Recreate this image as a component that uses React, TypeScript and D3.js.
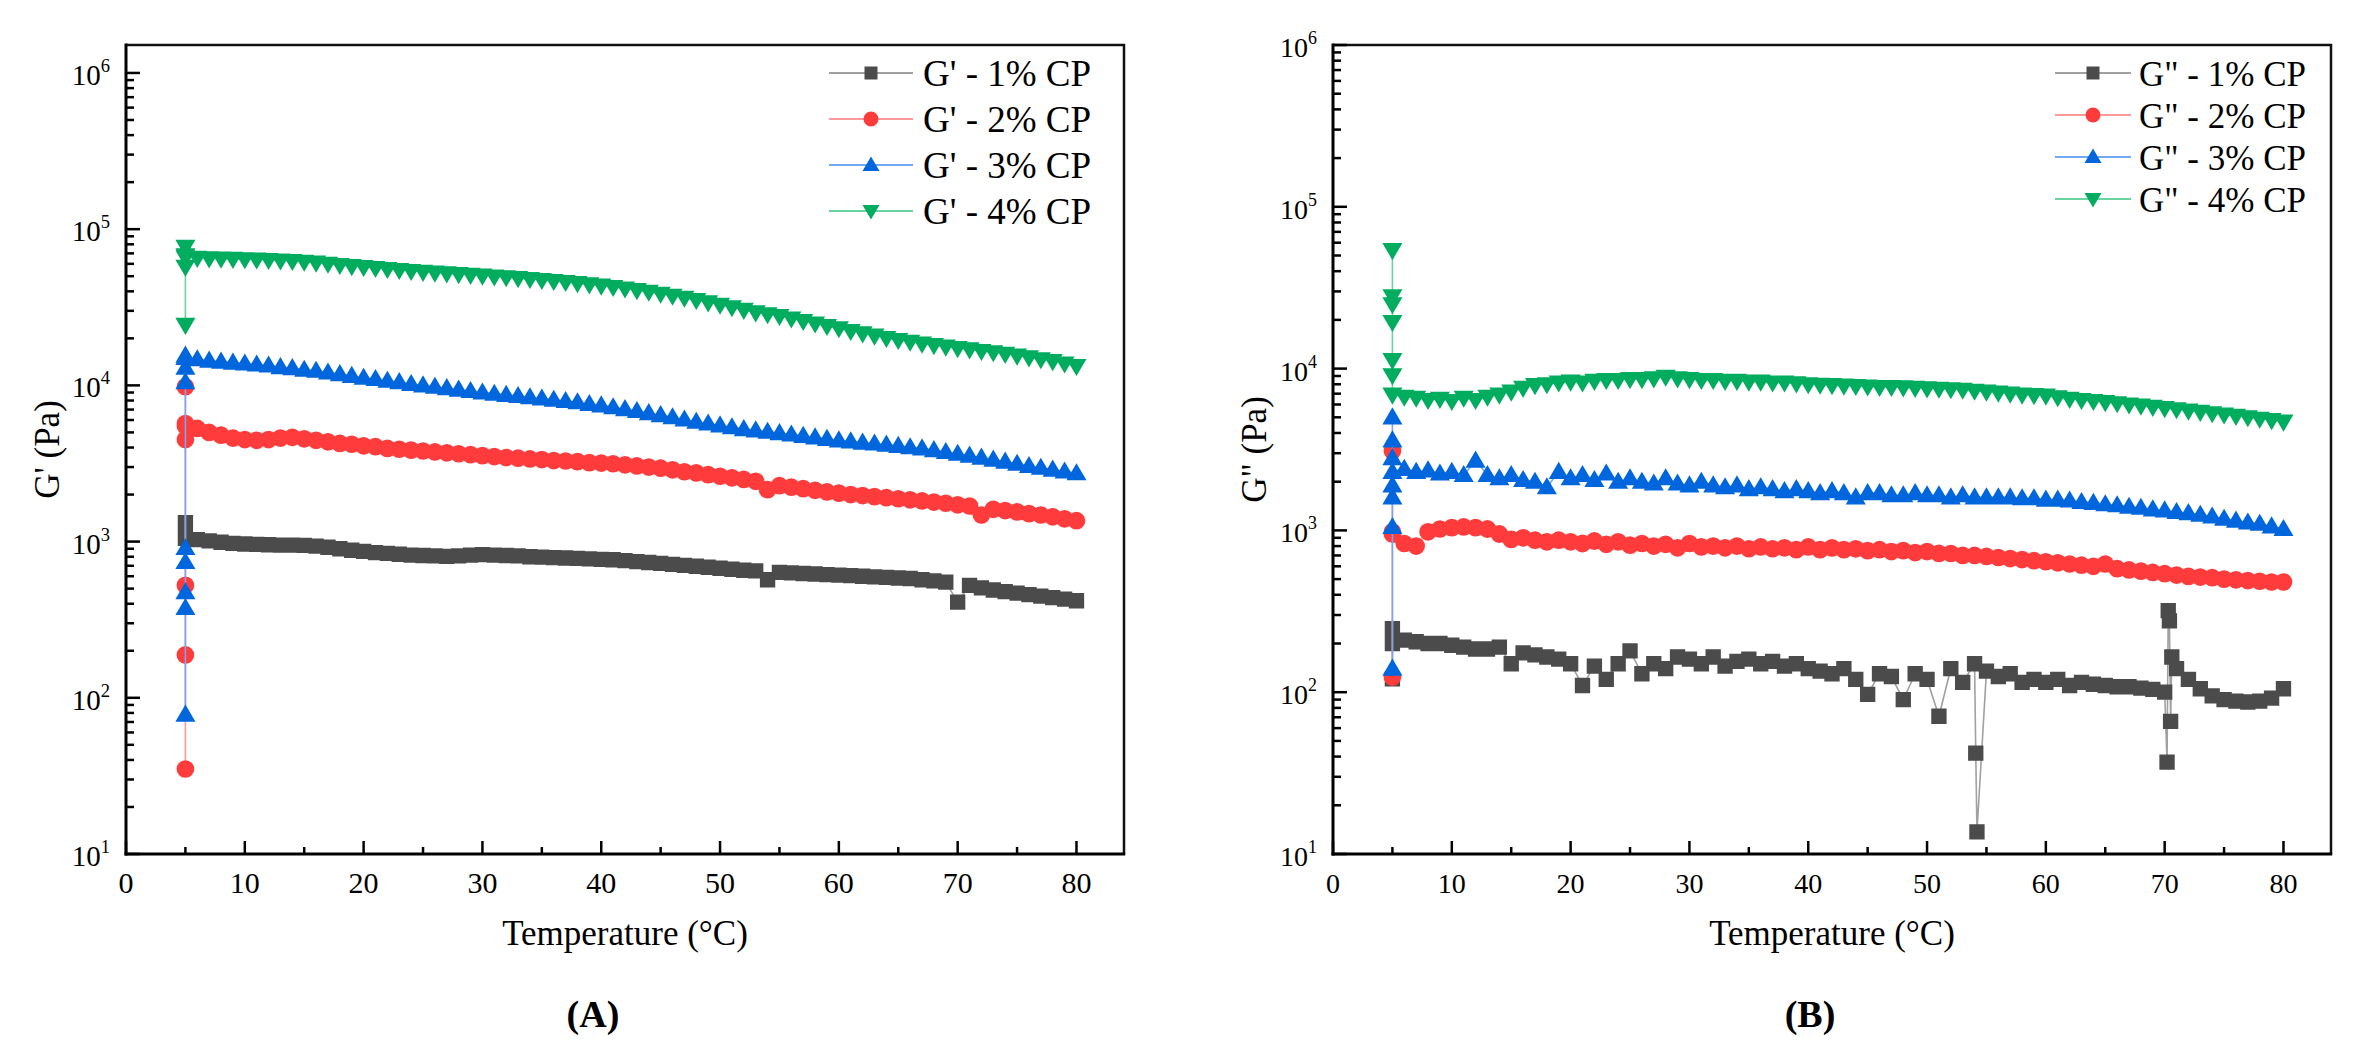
import * as d3 from 'd3';

// temperature sweep (°C), one reading per degree
const temps = [
  5, 6, 7, 8, 9, 10, 11, 12, 13, 14,
  15, 16, 17, 18, 19, 20, 21, 22, 23, 24,
  25, 26, 27, 28, 29, 30, 31, 32, 33, 34,
  35, 36, 37, 38, 39, 40, 41, 42, 43, 44,
  45, 46, 47, 48, 49, 50, 51, 52, 53, 54,
  55, 56, 57, 58, 59, 60, 61, 62, 63, 64,
  65, 66, 67, 68, 69, 70, 71, 72, 73, 74,
  75, 76, 77, 78, 79, 80,
];

// G' (Pa)
const gp1 = [
  1050, 1030, 1010, 990, 975, 965, 960, 955, 950, 950,
  945, 935, 920, 900, 880, 865, 850, 840, 830, 820,
  815, 810, 805, 810, 820, 825, 820, 815, 810, 800,
  795, 790, 785, 780, 775, 770, 765, 755, 745, 735,
  725, 715, 705, 695, 685, 675, 665, 655, 650, 570,
  635, 630, 625, 620, 615, 610, 605, 600, 595, 590,
  585, 580, 570, 560, 550, 410, 525, 505, 490, 478,
  468, 458, 448, 438, 428, 418,
];
const gp2 = [
  5500, 5300, 5000, 4800, 4600, 4500, 4450, 4500, 4600, 4650,
  4550, 4450, 4350, 4250, 4200, 4100, 4050, 3950, 3900, 3850,
  3800, 3750, 3700, 3650, 3600, 3550, 3500, 3450, 3420, 3380,
  3350, 3300, 3280, 3250, 3200, 3180, 3150, 3100, 3050, 3000,
  2950, 2880, 2800, 2750, 2680, 2620, 2560, 2500, 2430, 2150,
  2280, 2230, 2180, 2130, 2080, 2040, 2000, 1970, 1940, 1910,
  1880, 1850, 1820, 1790, 1760, 1720, 1690, 1480, 1610, 1580,
  1550, 1510, 1480, 1440, 1400, 1360,
];
const gp3 = [
  15000, 14700, 14400, 14200, 14000, 13800, 13600, 13400, 13100, 12900,
  12600, 12400, 12100, 11800, 11500, 11200, 11000, 10700, 10500, 10200,
  10000, 9800, 9600, 9400, 9200, 9000, 8850, 8700, 8550, 8400,
  8250, 8100, 7950, 7800, 7600, 7450, 7250, 7050, 6850, 6650,
  6450, 6250, 6050, 5850, 5700, 5550, 5400, 5250, 5150, 5050,
  4950, 4850, 4750, 4650, 4550, 4450, 4380, 4300, 4250, 4180,
  4100, 4020, 3950, 3850, 3750, 3650, 3550, 3450, 3350, 3250,
  3150, 3050, 2970, 2890, 2810, 2740,
];
const gp4 = [
  66000, 65500, 65000, 64800, 64500, 64200, 63900, 63500, 63000, 62500,
  61800, 61000, 60000, 59000, 58000, 57200, 56400, 55600, 54800, 54000,
  53300, 52700, 52100, 51500, 51000, 50400, 49800, 49200, 48600, 48000,
  47300, 46600, 45900, 45100, 44300, 43500, 42600, 41700, 40700, 39700,
  38600, 37500, 36400, 35200, 34000, 32800, 31600, 30400, 29300, 28500,
  27800, 26800, 25800, 24900, 24000, 23200, 22300, 21500, 20800, 20100,
  19500, 19000, 18500, 18100, 17700, 17300, 17000, 16600, 16300, 15900,
  15500, 15100, 14700, 14300, 13800, 13300,
];

// G'' (Pa)
const gpp1 = [
  200, 210, 205, 200, 200, 195, 190, 185, 185, 190,
  150, 175, 170, 165, 160, 150, 110, 145, 120, 150,
  180, 130, 150, 140, 165, 160, 150, 165, 145, 155,
  160, 150, 155, 145, 150, 140, 135, 130, 140, 120,
  97, 130, 125, 90, 130, 120, 71, 140, 115, 150,
  135, 125, 130, 115, 120, 115, 120, 110, 115, 112,
  110, 108, 108, 106, 104, 100, 140, 120, 105, 95,
  90, 88, 87, 88, 92, 105,
];
const gpp2 = [
  950, 830, 800, 980, 1020, 1040, 1050, 1040, 1020, 950,
  880, 900, 870, 850, 870, 850, 830, 860, 820, 850,
  810, 830, 800, 820, 780, 830, 790, 800, 780, 800,
  770, 790, 770, 780, 760, 790, 760, 780, 760, 770,
  750, 760, 740, 750, 730, 740, 720, 720, 700, 700,
  690, 680, 670, 660, 650, 640, 630, 620, 610, 600,
  620, 580, 570, 560, 550, 540, 530, 520, 515, 510,
  500, 495, 490, 485, 480, 480,
];
const gpp3 = [
  2300, 2400, 2300, 2350, 2250, 2300, 2200, 2700, 2200, 2100,
  2200, 2050, 2000, 1850, 2300, 2100, 2200, 2050, 2250, 2000,
  2100, 2000, 1950, 2100, 1950, 1900, 2000, 1900, 1850, 1900,
  1800, 1850, 1800, 1750, 1800, 1750, 1700, 1750, 1700, 1600,
  1700, 1700, 1650, 1650, 1700, 1650, 1650, 1600, 1650, 1600,
  1600, 1600, 1600, 1580, 1580, 1550, 1550, 1530, 1500, 1480,
  1450, 1430, 1400, 1380, 1350, 1330, 1300, 1280, 1250, 1220,
  1180, 1150, 1120, 1100, 1060, 1020,
];
const gpp4 = [
  6900, 6700, 6600, 6400, 6500, 6300, 6600, 6400, 6700, 6900,
  7200, 7600, 7900, 8000, 8200, 8300, 8200, 8400, 8500, 8500,
  8600, 8600, 8700, 8900, 8700, 8600, 8500, 8500, 8400, 8400,
  8300, 8300, 8200, 8200, 8100, 8000, 7950, 7900, 7850, 7800,
  7750, 7700, 7700, 7650, 7600, 7550, 7500, 7450, 7400, 7300,
  7200, 7100, 7000, 6900, 6850, 6800, 6650, 6500, 6400, 6300,
  6200, 6100, 6000, 5900, 5800, 5700, 5600, 5500, 5400, 5300,
  5200, 5100, 5000, 4900, 4800, 4700,
];

// start-up readings, all taken at 5 °C
const startTemp = 5;
const gp1Start = [1320, 1080];
const gp2Start = [35, 188, 525, 9800, 5700, 4500];
const gp3Start = [78, 376, 475, 740, 910, 10500, 13000, 15500];
const gp4Start = [24400, 57500, 77000, 68000];
const gpp1Start = [247, 121];
const gpp2Start = [124, 980, 3100];
const gpp3Start = [140, 1050, 1600, 1900, 2800, 3600, 5000];
const gpp4Start = [54000, 28000, 25000, 19400, 11300, 9100];

// outlying readings of G'' 1% CP
const gpp1SpikeTemps = [54.1, 54.2, 70.2, 70.3, 70.4, 70.5, 70.6];
const gpp1SpikeValues = [42, 13.7, 37, 319, 276, 66, 165];

const concentrations = ['1% CP', '2% CP', '3% CP', '4% CP'];
const xMajorTicks = [0, 10, 20, 30, 40, 50, 60, 70, 80];
const xMinorTicks = [5, 15, 25, 35, 45, 55, 65, 75];
const yExponents = [1, 2, 3, 4, 5, 6];

const shapes = ['square', 'circle', 'up', 'down'];
const markColors = ['#4b4b4b', '#ff3b3b', '#0066dd', '#00ad5f'];
const lineColors = ['#a0a0a0', '#ff9a9a', '#72a9f2', '#6bd3a0'];

const FONT = '"Liberation Serif", "Times New Roman", serif';

function marker(shape: string, cx: number, cy: number, k = 1) {
  const h = 6.5 * k;
  const r = 7.5 * k;
  const w = 8.5 * k;
  switch (shape) {
    case 'square':
      return `M${cx - h},${cy - h}h${2 * h}v${2 * h}h${-2 * h}Z`;
    case 'circle':
      return `M${cx - r},${cy}a${r},${r} 0 1,0 ${2 * r},0a${r},${r} 0 1,0 ${-2 * r},0Z`;
    case 'up':
      return `M${cx},${cy - w}L${cx + w},${cy + 6 * k}L${cx - w},${cy + 6 * k}Z`;
    default:
      return `M${cx},${cy + w}L${cx + w},${cy - 6 * k}L${cx - w},${cy - 6 * k}Z`;
  }
}

type Series = {
  start: number[];
  values: number[];
  extraT?: number[];
  extraV?: number[];
};

function points(s: Series): [number, number][] {
  const main: [number, number][] = temps.map((t, i) => [t, s.values[i]]);
  if (s.extraT) {
    s.extraT.forEach((t, i) => main.push([t, s.extraV![i]]));
    main.sort((a, b) => a[0] - b[0]);
  }
  return [...s.start.map((v) => [startTemp, v] as [number, number]), ...main];
}

type PanelProps = {
  x0: number;
  x1: number;
  top: number;
  bottom: number;
  yMax: number;
  series: Series[];
  prefix: string;
  yTitle: string;
  tag: string;
  tagX: number;
  yTitleX: number;
  tickFont: number;
  xTickFont: number;
  legend: { lineX0: number; lineX1: number; textX: number; rows: number[]; font: number };
};

function Panel(p: PanelProps) {
  const x = d3.scaleLinear().domain([0, 84]).range([p.x0, p.x1]);
  const y = d3.scaleLog().domain([10, p.yMax]).range([p.bottom, p.top]);
  const line = d3
    .line<[number, number]>()
    .x((d) => x(d[0]))
    .y((d) => y(d[1]));

  const minorY: number[] = [];
  yExponents.forEach((e) => {
    for (let m = 2; m <= 9; m++) {
      const v = m * Math.pow(10, e);
      if (v < p.yMax) minorY.push(v);
    }
  });

  const lg = p.legend;
  const markX = (lg.lineX0 + lg.lineX1) / 2;

  return (
    <g fontFamily={FONT} fill="#000">
      {p.series.map((s, i) => {
        const pts = points(s);
        return (
          <g key={i}>
            <path d={line(pts) || ''} fill="none" stroke={lineColors[i]} strokeWidth={1.6} />
            <path
              d={pts.map((d) => marker(shapes[i], x(d[0]), y(d[1]), 1.18)).join('')}
              fill={markColors[i]}
            />
          </g>
        );
      })}

      {/* frame */}
      <path
        d={`M${p.x0},${p.top}H${p.x1}V${p.bottom}`}
        fill="none"
        stroke="#111"
        strokeWidth={2.5}
      />
      <line x1={p.x0} x2={p.x0} y1={p.top - 1.5} y2={p.bottom + 1.5} stroke="#000" strokeWidth={3} />
      <line x1={p.x0 - 1.5} x2={p.x1 + 1.2} y1={p.bottom} y2={p.bottom} stroke="#000" strokeWidth={3} />

      {/* x ticks */}
      {xMajorTicks.map((t) => (
        <g key={'xm' + t}>
          <line x1={x(t)} x2={x(t)} y1={p.bottom} y2={p.bottom - 13} stroke="#000" strokeWidth={2.5} />
          <text x={x(t)} y={p.bottom + 39} textAnchor="middle" fontSize={p.xTickFont}>
            {t}
          </text>
        </g>
      ))}
      {xMinorTicks.map((t) => (
        <line key={'xn' + t} x1={x(t)} x2={x(t)} y1={p.bottom} y2={p.bottom - 7} stroke="#000" strokeWidth={2.5} />
      ))}

      {/* y ticks */}
      {yExponents.map((e) => {
        const v = Math.pow(10, e);
        return (
          <g key={'ym' + e}>
            <line x1={p.x0} x2={p.x0 + 14} y1={y(v)} y2={y(v)} stroke="#000" strokeWidth={2.5} />
            <text x={p.x0 - 16} y={y(v) + 12} textAnchor="end" fontSize={p.tickFont}>
              10
              <tspan dy={-13} fontSize={p.tickFont * 0.64}>
                {e}
              </tspan>
            </text>
          </g>
        );
      })}
      {minorY.map((v) => (
        <line key={'yn' + v} x1={p.x0} x2={p.x0 + 8} y1={y(v)} y2={y(v)} stroke="#000" strokeWidth={2.5} />
      ))}

      {/* titles */}
      <text x={(p.x0 + p.x1) / 2} y={945} textAnchor="middle" fontSize={35}>
        Temperature (°C)
      </text>
      <text
        transform={`translate(${p.yTitleX},${(p.top + p.bottom) / 2}) rotate(-90)`}
        textAnchor="middle"
        dy="0.35em"
        fontSize={35}
      >
        {p.yTitle}
      </text>
      <text x={p.tagX} y={1027} textAnchor="middle" fontSize={38} fontWeight="bold">
        ({p.tag})
      </text>

      {/* legend */}
      {concentrations.map((c, i) => (
        <g key={'lg' + i}>
          <line
            x1={lg.lineX0}
            x2={lg.lineX1}
            y1={lg.rows[i]}
            y2={lg.rows[i]}
            stroke={lineColors[i]}
            strokeWidth={2}
          />
          <path d={marker(shapes[i], markX, lg.rows[i])} fill={markColors[i]} />
          <text x={lg.textX} y={lg.rows[i]} dy="0.36em" fontSize={lg.font}>
            {p.prefix} - {c}
          </text>
        </g>
      ))}
    </g>
  );
}

export default function App() {
  const storage: Series[] = [
    { start: gp1Start, values: gp1 },
    { start: gp2Start, values: gp2 },
    { start: gp3Start, values: gp3 },
    { start: gp4Start, values: gp4 },
  ];
  const loss: Series[] = [
    { start: gpp1Start, values: gpp1, extraT: gpp1SpikeTemps, extraV: gpp1SpikeValues },
    { start: gpp2Start, values: gpp2 },
    { start: gpp3Start, values: gpp3 },
    { start: gpp4Start, values: gpp4 },
  ];

  return (
    <svg
      width={2355}
      height={1053}
      style={{ position: 'absolute', left: 0, top: 0, background: '#fff' }}
    >
      <rect width={2355} height={1053} fill="#fff" />
      <Panel
        x0={126}
        x1={1124}
        top={45}
        bottom={854}
        yMax={1.51e6}
        series={storage}
        prefix="G'"
        yTitle="G' (Pa)"
        tag="A"
        tagX={593}
        yTitleX={47}
        tickFont={29}
        xTickFont={30}
        legend={{ lineX0: 829, lineX1: 913, textX: 923, rows: [73, 119, 165, 211], font: 37 }}
      />
      <Panel
        x0={1333}
        x1={2331}
        top={45}
        bottom={854}
        yMax={1e6}
        series={loss}
        prefix={'G"'}
        yTitle={'G" (Pa)'}
        tag="B"
        tagX={1810}
        yTitleX={1254}
        tickFont={28}
        xTickFont={28}
        legend={{ lineX0: 2055, lineX1: 2131, textX: 2139, rows: [73, 115, 157, 199], font: 35 }}
      />
    </svg>
  );
}
